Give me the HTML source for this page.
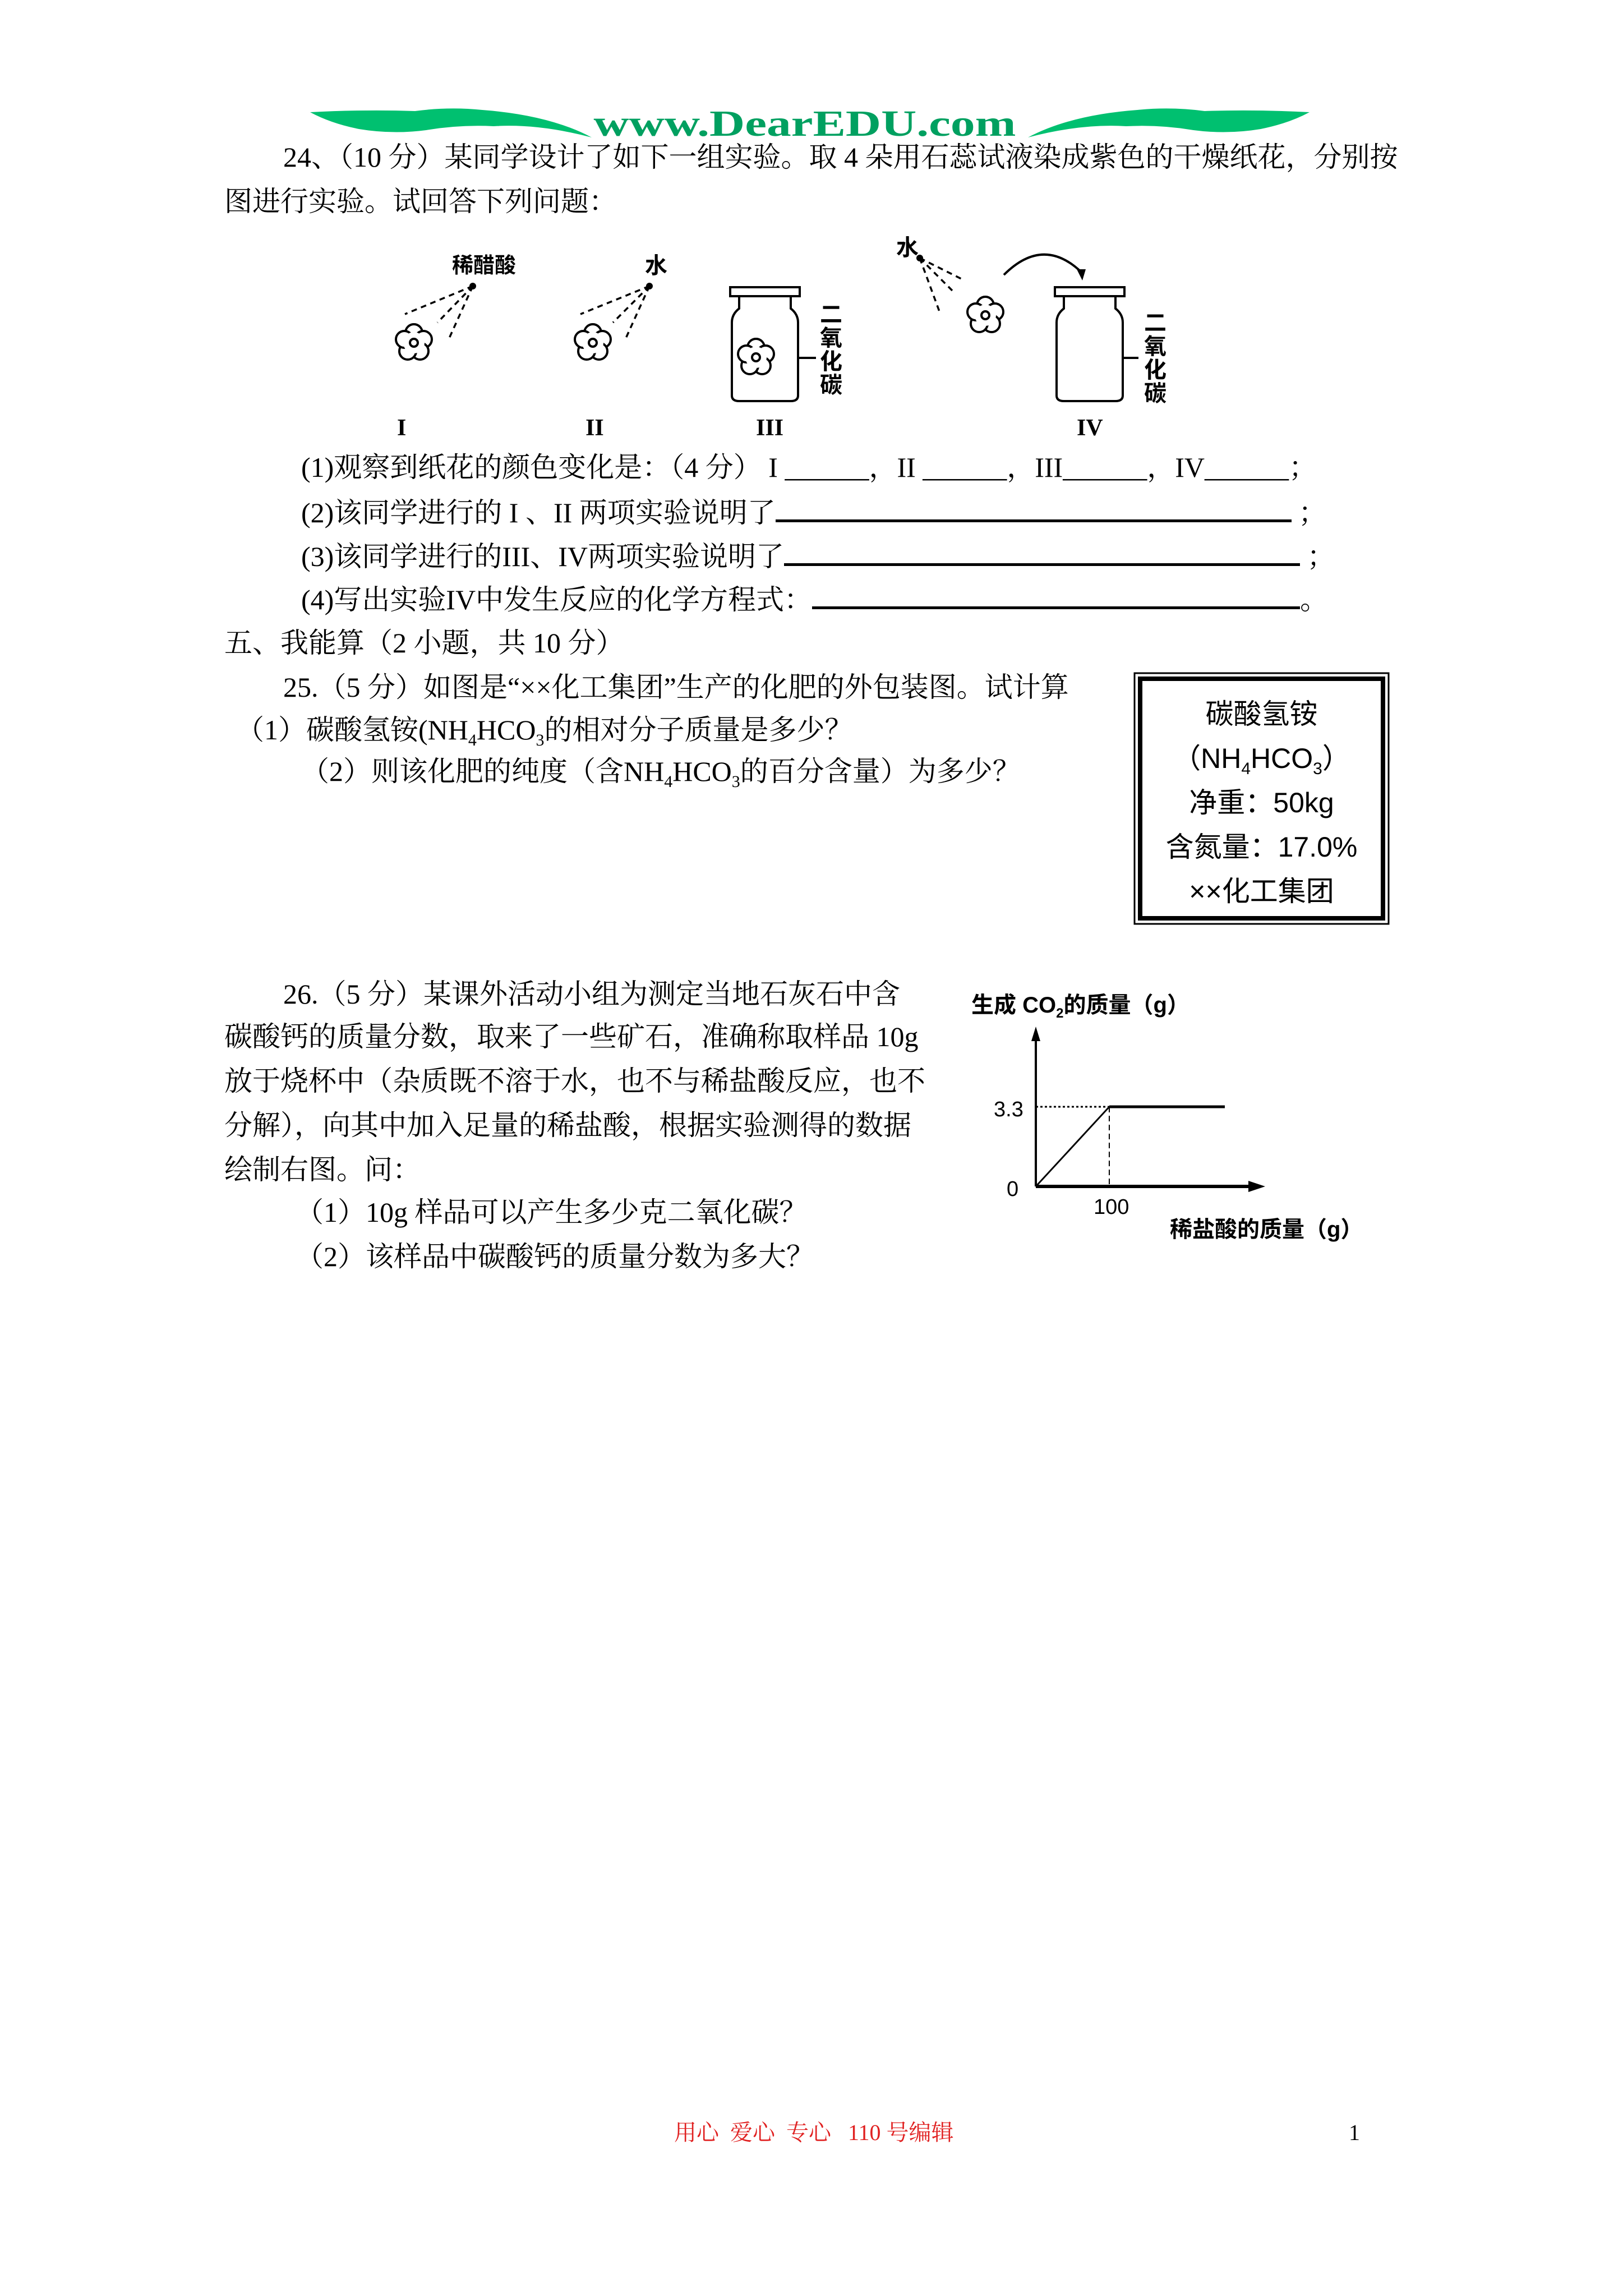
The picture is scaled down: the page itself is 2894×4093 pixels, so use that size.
<!DOCTYPE html>
<html><head><meta charset="utf-8">
<style>
html,body{margin:0;padding:0;background:#fff;}
#p{position:relative;width:2894px;height:4093px;overflow:hidden;background:#fff;font-family:"Liberation Serif","Noto Serif CJK SC",serif;color:#000;}
.t{position:absolute;white-space:nowrap;font-size:50px;line-height:60px;}
.s{font-family:"Liberation Sans","Noto Sans CJK SC",sans-serif;}
.u{display:inline-block;border-bottom:5px solid #000;height:44px;vertical-align:baseline;}
sub{font-size:60%;}
</style></head><body><div id="p">
<svg width="2894" height="4093" style="position:absolute;left:0;top:0">
<defs>
<g id="fl">
<g fill="#fff" stroke="#000" stroke-width="4">
<circle cx="0" cy="-18" r="15"/><circle cx="17" cy="-6" r="15"/><circle cx="11" cy="15" r="15"/><circle cx="-11" cy="15" r="15"/><circle cx="-17" cy="-6" r="15"/>
</g>
<circle cx="0" cy="0" r="19" fill="#fff"/>
<circle cx="0" cy="0" r="7" fill="none" stroke="#000" stroke-width="4"/>
</g>
</defs>
<!-- header swooshes -->
<path d="M553 200 Q650 195 740 198 Q800 190 860 196 Q980 205 1055 245 Q960 220 880 225 Q820 222 760 232 Q700 240 640 230 Q590 220 553 200Z" fill="#00c070"/>
<path d="M2335 200 Q2238 195 2148 198 Q2088 190 2028 196 Q1908 205 1833 245 Q1928 220 2008 225 Q2068 222 2128 232 Q2188 240 2248 230 Q2298 220 2335 200Z" fill="#00c070"/>
<text x="1435" y="242" text-anchor="middle" font-family="Liberation Serif,serif" font-weight="bold" font-size="66" fill="#00a060" textLength="753" lengthAdjust="spacingAndGlyphs">www.DearEDU.com</text>
<!-- flowers -->
<use href="#fl" x="738" y="611"/>
<use href="#fl" x="1057" y="611"/>
<use href="#fl" x="1757" y="562"/>
<use href="#fl" x="1348" y="637"/>
<g fill="none" stroke="#000" stroke-width="4">
<g stroke-dasharray="10 8" stroke-width="3.5">
<path d="M843 510 L722 560"/><path d="M843 510 L780 575"/><path d="M843 510 L800 605"/>
<path d="M1158 510 L1035 560"/><path d="M1158 510 L1093 575"/><path d="M1158 510 L1115 605"/>
<path d="M1640 460 L1700 520"/><path d="M1640 460 L1675 555"/><path d="M1640 460 L1720 500"/>
</g>
<!-- bottles -->
<rect x="1302" y="512" width="124" height="16"/><path d="M1318 528 V550 Q1305 560 1305 575 V705 Q1305 715 1318 715 H1410 Q1423 715 1423 705 V575 Q1423 560 1410 550 V528"/>
<line x1="1423" y1="638" x2="1455" y2="638"/>
<rect x="1881" y="512" width="124" height="16"/><path d="M1897 528 V550 Q1884 560 1884 575 V705 Q1884 715 1897 715 H1989 Q2002 715 2002 705 V575 Q2002 560 1989 550 V528"/>
<line x1="2002" y1="638" x2="2030" y2="638"/>
<path d="M1790 490 Q1860 420 1928 485"/>
</g>
<circle cx="843" cy="510" r="6"/><circle cx="1158" cy="510" r="6"/><circle cx="1640" cy="460" r="6"/>
<path d="M1920 480 L1936 480 L1930 500Z" fill="#000"/>
<!-- answer box -->
<rect x="2023" y="1200" width="453" height="447" fill="none" stroke="#000" stroke-width="3"/>
<rect x="2033" y="1210" width="433" height="427" fill="none" stroke="#000" stroke-width="8"/>
<!-- chart -->
<g stroke="#000" fill="none">
<line x1="1847" y1="2115" x2="1847" y2="1850" stroke-width="4"/>
<line x1="1847" y1="2115" x2="2235" y2="2115" stroke-width="6"/>
<line x1="1847" y1="2115" x2="1978" y2="1973" stroke-width="3"/>
<line x1="1847" y1="1973" x2="1978" y2="1973" stroke-width="3" stroke-dasharray="4 4"/>
<line x1="1978" y1="1973" x2="2184" y2="1973" stroke-width="5"/>
<line x1="1978" y1="1973" x2="1978" y2="2115" stroke-width="2" stroke-dasharray="10 6"/>
</g>
<path d="M1839 1856 L1847 1830 L1855 1856Z M2226 2105 L2256 2115 L2226 2125Z" fill="#000"/>
</svg>

<div class="t s" style="left:806px;top:444px;font-size:38px;font-weight:bold">稀醋酸</div>
<div class="t s" style="left:1150px;top:444px;font-size:40px;font-weight:bold">水</div>
<div class="t s" style="left:1598px;top:412px;font-size:40px;font-weight:bold">水</div>
<div class="t s" style="left:1462px;top:540px;font-size:40px;font-weight:bold;line-height:42px;width:40px;white-space:normal">二氧化碳</div>
<div class="t s" style="left:2040px;top:555px;font-size:40px;font-weight:bold;line-height:42px;width:40px;white-space:normal">二氧化碳</div>
<div class="t" style="left:708px;top:733px;font-weight:bold;font-size:42px">I</div>
<div class="t" style="left:1044px;top:733px;font-weight:bold;font-size:42px">II</div>
<div class="t" style="left:1348px;top:733px;font-weight:bold;font-size:42px">III</div>
<div class="t" style="left:1920px;top:733px;font-weight:bold;font-size:42px">IV</div>

<div class="t" style="left:505px;top:250px">24、（10 分）某同学设计了如下一组实验。取 4 朵用石蕊试液染成紫色的干燥纸花，分别按</div>
<div class="t" style="left:400px;top:329px">图进行实验。试回答下列问题：</div>
<div class="t" style="left:537px;top:803px">(1)观察到纸花的颜色变化是：（4 分） I ______，II ______，III______，IV______；</div>
<div class="t" style="left:537px;top:882px">(2)该同学进行的 I 、II 两项实验说明了<span class="u" style="width:920px"></span> ；</div>
<div class="t" style="left:537px;top:960px">(3)该同学进行的III、IV两项实验说明了<span class="u" style="width:920px"></span> ；</div>
<div class="t" style="left:537px;top:1037px">(4)写出实验IV中发生反应的化学方程式：<span class="u" style="width:870px"></span>。</div>
<div class="t" style="left:400px;top:1116px">五、我能算（2 小题，共 10 分）</div>
<div class="t" style="left:505px;top:1195px">25.（5 分）如图是“××化工集团”生产的化肥的外包装图。试计算</div>
<div class="t" style="left:421px;top:1271px">（1）碳酸氢铵(NH<sub>4</sub>HCO<sub>3</sub>的相对分子质量是多少？</div>
<div class="t" style="left:537px;top:1345px">（2）则该化肥的纯度（含NH<sub>4</sub>HCO<sub>3</sub>的百分含量）为多少？</div>

<div class="t s" style="left:2033px;width:433px;text-align:center;top:1243px">碳酸氢铵</div>
<div class="t s" style="left:2033px;width:433px;text-align:center;top:1322px">（NH<sub>4</sub>HCO<sub>3</sub>）</div>
<div class="t s" style="left:2033px;width:433px;text-align:center;top:1401px">净重：50kg</div>
<div class="t s" style="left:2033px;width:433px;text-align:center;top:1480px">含氮量：17.0%</div>
<div class="t s" style="left:2033px;width:433px;text-align:center;top:1559px">××化工集团</div>

<div class="t" style="left:505px;top:1742px">26.（5 分）某课外活动小组为测定当地石灰石中含</div>
<div class="t" style="left:400px;top:1818px">碳酸钙的质量分数，取来了一些矿石，准确称取样品 10g</div>
<div class="t" style="left:400px;top:1897px">放于烧杯中（杂质既不溶于水，也不与稀盐酸反应，也不</div>
<div class="t" style="left:400px;top:1976px">分解），向其中加入足量的稀盐酸，根据实验测得的数据</div>
<div class="t" style="left:400px;top:2055px">绘制右图。问：</div>
<div class="t" style="left:527px;top:2131px">（1）10g 样品可以产生多少克二氧化碳？</div>
<div class="t" style="left:527px;top:2210px">（2）该样品中碳酸钙的质量分数为多大？</div>

<div class="t s" style="left:1732px;top:1762px;font-size:40px;font-weight:bold">生成 CO<sub>2</sub>的质量（g）</div>
<div class="t s" style="left:1772px;top:1948px;font-size:38px">3.3</div>
<div class="t s" style="left:1795px;top:2090px;font-size:38px">0</div>
<div class="t s" style="left:1950px;top:2122px;font-size:38px">100</div>
<div class="t s" style="left:2086px;top:2162px;font-size:40px;font-weight:bold">稀盐酸的质量（g）</div>

<div class="t" style="left:1202px;top:3772px;color:#e02020;font-size:40px">用心 &nbsp;爱心 &nbsp;专心 &nbsp;&nbsp;110 号编辑</div>
<div class="t" style="left:2405px;top:3772px;font-size:40px">1</div>
</div></body></html>
